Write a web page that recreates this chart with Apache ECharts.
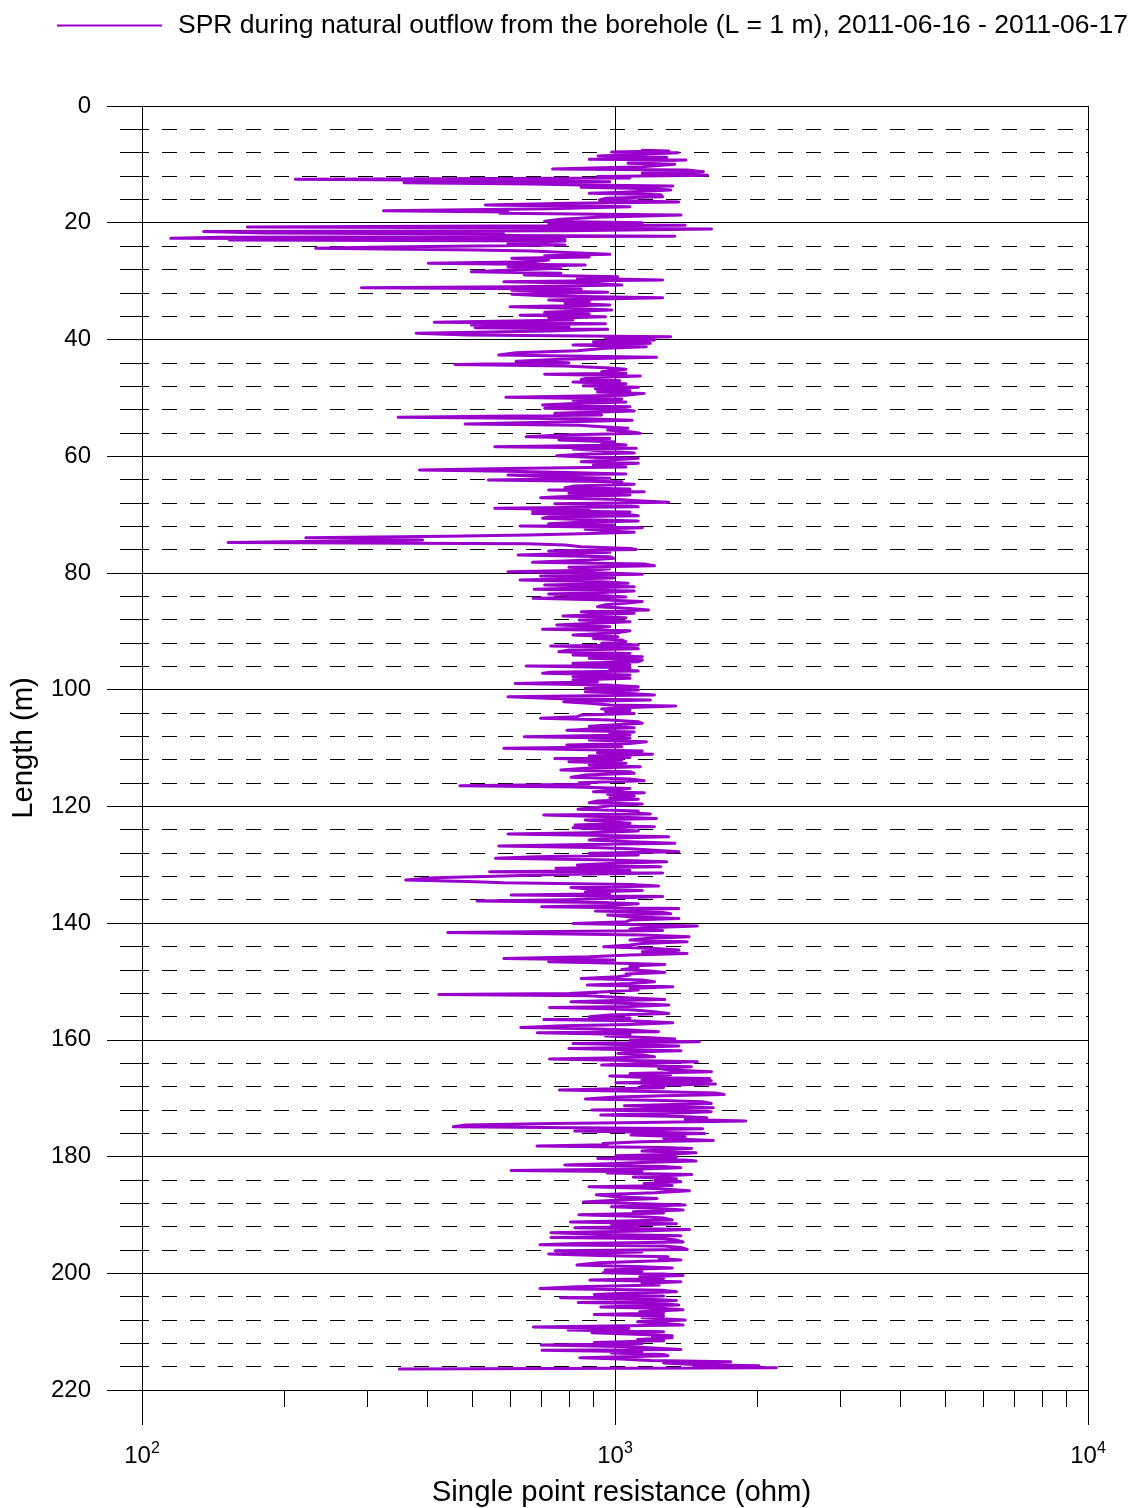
<!DOCTYPE html>
<html>
<head>
<meta charset="utf-8">
<script src="https://cdn.jsdelivr.net/npm/echarts@6/dist/echarts.min.js"></script>
<style>
  html, body { margin: 0; padding: 0; background: #fff; }
  #chart { width: 1134px; height: 1508px; }
</style>
</head>
<body>
<div id="chart"></div>
<script>
// Borehole single point resistance log: depth along the hole (m) and resistance (ohm)
const seriesName = 'SPR during natural outflow from the borehole (L = 1 m), 2011-06-16 - 2011-06-17';

const depthM = [
  7.6,7.7,7.88,8.0,8.34,8.57,8.8,9.14,9.25,9.6,9.82,9.99,10.4,10.8,10.97,11.25,11.5,11.88,12.1,12.34,
  12.57,12.8,12.97,13.14,13.37,13.54,13.71,13.94,14.17,14.39,14.8,14.97,15.19,15.54,15.82,16.11,16.45,16.68,16.96,17.25,
  17.6,17.93,18.16,18.39,18.68,19.08,19.42,19.76,19.99,20.22,20.45,20.73,20.85,21.08,21.36,21.5,21.76,21.93,22.16,22.3,
  22.5,22.68,22.85,22.96,23.13,23.53,23.82,24.16,24.39,24.67,24.85,25.07,25.42,25.65,25.87,26.1,26.39,26.67,26.96,27.24,
  27.53,27.82,28.1,28.39,28.67,28.96,29.24,29.53,29.82,30.1,30.39,30.67,30.96,31.13,31.36,31.59,31.93,32.27,32.56,32.84,
  33.24,33.53,33.81,34.1,34.38,34.67,34.96,35.36,35.64,35.87,36.1,36.38,36.67,37.07,37.3,37.53,37.81,37.98,38.27,38.55,
  38.95,39.24,39.53,39.81,40.1,40.38,40.67,40.95,41.24,41.52,41.92,42.27,42.67,43.07,43.41,43.75,43.98,44.27,44.55,44.89,
  45.12,45.52,45.81,45.98,46.27,46.55,46.84,47.07,47.29,47.58,47.92,48.21,48.49,48.78,49.01,49.24,49.58,49.92,50.21,50.43,
  50.72,51.0,51.23,51.52,51.8,52.09,52.26,52.66,52.95,53.35,53.58,53.86,54.15,54.49,54.72,54.95,55.23,55.52,55.8,56.09,
  56.38,56.66,56.95,57.23,57.52,57.8,58.09,58.37,58.66,58.77,59.12,59.46,59.69,59.92,60.2,60.37,60.66,60.94,61.23,61.52,
  61.86,62.09,62.37,62.6,62.83,63.06,63.23,63.51,63.8,64.08,64.37,64.66,64.83,65.11,65.4,65.63,65.8,66.09,66.37,66.66,
  66.94,67.11,67.4,67.68,67.91,68.14,68.37,68.66,68.94,69.17,69.34,69.57,69.8,70.03,70.2,70.43,70.65,70.88,71.11,71.34,
  71.57,71.8,71.97,72.25,72.54,72.82,73.05,73.28,73.51,73.74,73.97,74.2,74.37,74.77,75.0,75.22,75.51,75.8,75.97,76.25,
  76.48,76.65,76.94,77.22,77.51,77.79,78.19,78.48,78.76,79.05,79.28,79.56,79.79,80.02,80.25,80.54,80.88,81.22,81.51,81.79,
  82.08,82.36,82.59,82.82,83.11,83.39,83.62,83.91,84.13,84.36,84.65,84.88,85.1,85.45,85.79,86.08,86.36,86.65,86.93,87.39,
  87.68,88.07,88.36,88.65,88.93,89.22,89.5,89.67,89.9,90.25,90.65,90.93,91.22,91.5,91.79,92.07,92.36,92.53,92.76,92.99,
  93.22,93.5,93.79,94.07,94.36,94.64,94.93,95.21,95.5,95.78,95.95,96.24,96.47,96.81,97.04,97.21,97.5,97.78,98.07,98.35,
  98.64,98.93,99.21,99.5,99.78,100.07,100.35,100.64,100.92,101.21,101.5,101.78,102.07,102.35,102.64,102.81,103.04,103.32,103.55,103.78,
  104.07,104.35,104.64,104.92,105.21,105.49,105.78,106.07,106.29,106.52,106.75,106.98,107.26,107.55,107.78,108.06,108.35,108.64,108.92,109.21,
  109.49,109.78,110.06,110.29,110.52,110.81,111.09,111.38,111.61,111.78,112.06,112.35,112.63,112.92,113.2,113.49,113.77,114.06,114.34,114.63,
  115.03,115.32,115.6,115.94,116.23,116.46,116.69,116.92,117.2,117.49,117.66,117.94,118.23,118.51,118.8,119.09,119.37,119.6,119.89,120.17,
  120.51,120.8,121.08,121.31,121.48,121.77,122.06,122.34,122.63,122.91,123.2,123.48,123.66,123.94,124.23,124.51,124.74,124.97,125.2,125.48,
  125.77,126.05,126.34,126.57,126.8,127.03,127.25,127.54,127.77,128.05,128.34,128.62,128.91,129.2,129.48,129.77,130.05,130.34,130.62,130.97,
  131.2,131.43,131.66,131.94,132.23,132.63,132.86,133.09,133.37,133.66,133.89,134.17,134.4,134.69,134.97,135.2,135.43,135.71,136.0,136.23,
  136.46,136.69,136.97,137.2,137.49,137.71,137.94,138.17,138.4,138.63,138.91,139.2,139.48,139.77,140.06,140.34,140.51,140.8,141.03,141.26,
  141.6,141.83,142.06,142.34,142.63,142.91,143.2,143.48,143.77,144.05,144.34,144.63,144.91,145.2,145.48,145.77,146.05,146.34,146.62,146.91,
  147.08,147.37,147.65,147.94,148.22,148.45,148.74,148.91,149.19,149.48,149.76,150.05,150.33,150.62,150.91,151.19,151.48,151.76,152.05,152.22,
  152.45,152.62,152.9,153.08,153.3,153.48,153.76,154.05,154.28,154.45,154.68,154.9,155.19,155.48,155.76,156.05,156.28,156.5,156.73,157.07,
  157.36,157.59,157.87,158.1,158.33,158.62,158.79,159.07,159.36,159.65,159.87,160.1,160.33,160.62,160.84,161.07,161.3,161.47,161.7,161.87,
  162.1,162.33,162.61,162.9,163.13,163.3,163.53,163.76,163.99,164.16,164.33,164.61,164.9,165.19,165.47,165.76,165.99,166.21,166.44,166.61,
  166.85,167.01,167.2,167.35,167.58,167.87,168.21,168.61,168.9,169.12,169.35,169.58,169.81,170.15,170.38,170.61,170.9,171.12,171.3,171.64,
  171.87,172.04,172.32,172.61,172.89,173.12,173.35,173.64,173.92,174.15,174.32,174.61,174.89,175.07,175.24,175.46,175.64,175.86,176.04,176.32,
  176.61,176.89,177.23,177.46,177.75,177.98,178.21,178.43,178.61,178.83,179.06,179.35,179.63,179.86,180.09,180.32,180.6,180.78,181.0,181.23,
  181.46,181.69,181.92,182.15,182.38,182.6,182.83,183.06,183.29,183.52,183.8,184.09,184.32,184.6,184.94,185.17,185.46,185.86,186.2,186.54,
  186.89,187.17,187.46,187.8,188.09,188.31,188.6,188.89,189.17,189.46,189.68,189.97,190.26,190.54,190.88,191.23,191.51,191.8,192.03,192.2,
  192.48,192.77,193.05,193.34,193.57,193.85,194.08,194.31,194.65,194.88,195.11,195.34,195.57,195.91,196.14,196.37,196.71,196.94,197.17,197.45,
  197.74,197.97,198.2,198.6,198.88,199.11,199.45,199.68,199.91,200.14,200.37,200.59,200.88,201.17,201.45,201.74,202.02,202.31,202.6,202.93,
  203.16,203.45,203.62,203.9,204.19,204.42,204.65,204.99,205.22,205.45,205.79,206.02,206.25,206.59,206.82,207.05,207.33,207.62,208.02,208.3,
  208.59,208.87,209.22,209.45,209.73,210.02,210.19,210.47,210.7,210.9,211.04,211.33,211.56,211.84,212.07,212.3,212.53,212.76,213.04,213.21,
  213.44,213.67,213.9,214.13,214.47,214.7,214.93,215.16,215.39,215.61,215.84,216.01,216.19,216.41
];

const resistanceOhm = [
  1142,1299,984,1360,1076,921,1286,882,1413,1076,1065,1338,1142,738,1421,1538,1142,1569,918,1076,
  211,630,975,358,669,848,1325,848,1200,1312,1014,882,1249,1261,955,927,1365,799,532,1076,
  724,324,594,571,1379,918,768,710,1142,724,1407,167,594,1600,784,135,181,582,450,1338,
  148,115,784,153,784,594,784,327,233,506,669,768,975,710,882,605,724,669,403,865,
  594,768,605,497,768,643,1014,832,1261,582,882,1034,618,291,848,605,965,605,724,1261,
  724,882,784,975,600,799,984,710,882,630,955,724,815,415,955,497,799,506,965,724,
  380,487,1312,955,1212,900,1188,815,1165,955,832,618,568,1224,768,618,799,459,784,975,
  1055,937,1055,710,1131,882,848,1024,815,1055,857,1120,909,1076,918,1153,1055,588,1034,815,
  1055,799,703,1076,710,1055,1098,746,937,348,865,1087,753,482,840,937,1065,965,1076,1131,
  768,649,975,761,994,937,1055,557,1109,815,955,1098,848,753,882,1120,975,848,1120,900,
  1055,594,386,594,832,1055,594,724,975,540,1034,994,1098,823,784,1076,724,1153,799,1076,
  761,696,994,1142,1299,746,994,1120,557,882,669,1076,669,1076,1120,724,703,882,1120,848,
  724,994,630,1142,865,975,1098,848,655,441,222,340,392,152,655,784,848,1076,1109,724,
  975,848,624,975,994,882,669,1153,1212,799,975,882,594,955,1142,696,994,630,937,1065,
  710,1098,848,675,1098,918,724,955,1055,671,955,1142,1076,955,918,1076,1177,848,1098,776,
  1055,840,1076,882,753,975,882,703,1076,1010,815,1014,900,1034,1055,937,1120,731,1076,1120,
  799,761,1076,815,1142,882,1142,1120,815,1076,649,1076,975,1120,724,703,1076,815,1076,815,
  918,615,955,1120,865,1120,865,1076,1212,594,738,1188,779,882,975,1344,1076,937,1076,955,
  1098,848,832,696,975,1120,1142,1153,882,1098,882,791,1098,975,1076,643,1076,882,1165,1076,
  791,1034,582,882,1142,918,1200,882,1076,746,1034,799,1055,882,1131,865,768,1076,1098,865,
  807,1076,1153,840,882,470,815,1076,1014,900,1153,965,1098,975,1120,918,882,1142,975,918,
  835,1120,1076,1188,707,975,1224,865,857,1076,823,1212,815,955,1120,882,594,882,1299,955,
  882,1076,1338,807,568,891,1076,1212,1365,882,1120,682,559,975,1286,975,832,1249,750,1076,
  543,1261,753,582,415,361,487,582,1076,1236,807,882,1142,865,975,603,1261,1004,799,511,
  937,1120,975,700,1365,1076,909,1261,1312,965,1076,1365,1076,1055,815,1188,1493,1165,1076,1261,
  443,724,1142,1435,1165,1076,1421,1142,1076,946,1212,1365,1142,1421,1076,882,582,994,724,1076,
  1274,1076,1120,1034,1188,1274,1055,1076,1014,848,1142,1212,1076,874,1325,1076,1120,955,799,424,
  882,955,1142,1274,955,807,1076,1299,1076,727,975,1098,1212,1299,975,882,1076,707,1076,1325,
  1076,776,632,882,1076,1236,685,1076,955,1188,1338,1076,1508,815,1076,1365,1076,799,1076,1379,
  1076,1014,1142,1212,955,727,1076,1493,1188,1076,937,1450,1236,1312,1600,1076,1312,975,1165,1585,
  1140,1598,1267,1004,1631,1140,1267,763,1267,1631,1702,1267,1004,866,1267,1532,1598,1267,1047,1614,
  1267,894,1598,1267,933,1378,1564,1407,1891,1140,740,485,455,831,1532,1093,822,1267,1548,1081,
  1407,1267,1614,1140,943,963,684,1267,1453,1267,1140,1484,1267,1004,1349,919,1407,1484,1140,963,
  783,1267,1378,1140,603,1140,963,1453,1267,1093,1349,1214,1378,1152,1321,881,1214,1437,1214,913,
  1004,1227,1026,857,1140,1407,983,1240,1393,1093,1267,839,1116,1267,1321,805,1349,983,1116,822,
  1437,1140,732,963,1378,732,1267,1349,1393,831,694,1267,1378,1422,747,1140,724,923,1294,1240,
  1378,1116,923,831,1140,1321,953,1140,943,1267,1393,1128,1267,885,1378,1140,1240,831,694,1267,
  1349,1026,904,1267,767,1140,1349,836,1267,1364,933,1267,1393,1128,1267,904,1267,1140,1407,1116,
  1267,1393,672,1070,796,1267,894,1140,1321,1200,1321,1116,1267,904,1140,698,1026,1176,1378,701,
  1140,983,1267,1294,843,1026,1189,1757,1267,1468,2016,1468,2193,350
];

// Axis ranges and tick positions
const depthRange = [0, 220];
const depthMajorStep = 20;
const resistanceRange = [100, 10000];
const resistanceMinorTicks = [200, 300, 400, 500, 600, 700, 800, 900,
                              2000, 3000, 4000, 5000, 6000, 7000, 8000, 9000];

const FONT = '"Liberation Sans", Arial, sans-serif';
const LINE_COLOR = '#9900CC';

const points = depthM.map((d, i) => [resistanceOhm[i], d]);

const chart = echarts.init(document.getElementById('chart'), null, { renderer: 'canvas' });

chart.setOption({
  animation: false,
  backgroundColor: '#ffffff',
  textStyle: { fontFamily: FONT, color: '#000' },
  legend: {
    data: [{ name: seriesName, icon: 'rect' }],
    left: 57,
    top: 12,
    padding: 0,
    itemWidth: 105,
    itemHeight: 2,
    textStyle: { fontSize: 26.5, color: '#000', fontFamily: FONT, padding: [2, 0, 0, 11] }
  },
  grid: { left: 142, right: 46, top: 106, bottom: 118, containLabel: false, outerBoundsMode: 'none' },
  xAxis: [
    {
      type: 'log',
      logBase: 10,
      min: resistanceRange[0],
      max: resistanceRange[1],
      position: 'bottom',
      name: 'Single point resistance (ohm)',
      nameLocation: 'middle',
      nameGap: 88,
      nameTextStyle: { fontSize: 29.3, color: '#000', fontFamily: FONT, padding: [0, 0, 0, 13] },
      axisLine: { show: true, onZero: false, lineStyle: { color: '#000', width: 1 } },
      axisTick: { show: true, inside: false, length: 35, lineStyle: { color: '#000', width: 1 } },
      splitLine: { show: true, lineStyle: { color: '#000', width: 1 } },
      axisLabel: {
        margin: 51,
        color: '#000',
        formatter: (v) => '{b|10}{s|' + Math.round(Math.log10(v)) + '}',
        rich: {
          b: { fontSize: 24, lineHeight: 30, fontFamily: FONT, color: '#000' },
          s: { fontSize: 16, lineHeight: 16, verticalAlign: 'top', fontFamily: FONT, color: '#000' }
        }
      }
    },
    {
      // minor logarithmic ticks (2..9 of each decade)
      type: 'log',
      logBase: 10,
      min: resistanceRange[0],
      max: resistanceRange[1],
      position: 'bottom',
      axisLine: { show: false, onZero: false },
      axisLabel: { show: false },
      splitLine: { show: false },
      axisTick: {
        show: true,
        inside: false,
        length: 17,
        customValues: resistanceMinorTicks,
        lineStyle: { color: '#000', width: 1 }
      }
    }
  ],
  yAxis: {
    type: 'value',
    inverse: true,
    min: depthRange[0],
    max: depthRange[1],
    interval: depthMajorStep,
    name: 'Length (m)',
    nameLocation: 'middle',
    nameGap: 104,
    nameTextStyle: { fontSize: 29.3, color: '#000', fontFamily: FONT },
    axisLine: { show: true, onZero: false, lineStyle: { color: '#000', width: 1 } },
    axisTick: { show: true, inside: false, length: 35, lineStyle: { color: '#000', width: 1 } },
    minorTick: { show: true, splitNumber: 5, length: 22, lineStyle: { color: '#000', width: 1 } },
    splitLine: { show: true, lineStyle: { color: '#000', width: 1 } },
    minorSplitLine: { show: true, lineStyle: { color: '#000', width: 1.2, type: [15, 13], dashOffset: 8 } },
    axisLabel: { margin: 51, fontSize: 24, color: '#000', fontFamily: FONT, padding: [5, 0, 0, 0] }
  },
  series: [
    {
      name: seriesName,
      type: 'line',
      xAxisIndex: 0,
      yAxisIndex: 0,
      data: points,
      symbol: 'none',
      showSymbol: false,
      color: LINE_COLOR,
      lineStyle: { color: LINE_COLOR, width: 3, join: 'round', cap: 'round' },
      clip: true,
      z: 5
    }
  ]
});
</script>
</body>
</html>
